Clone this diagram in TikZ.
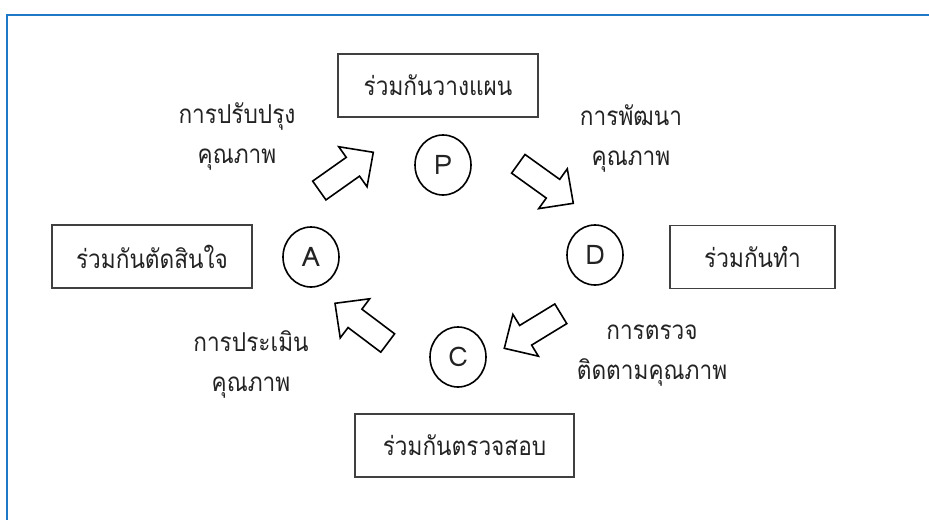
\documentclass[tikz,border=0pt]{standalone}
\usepackage{fontspec}
\newfontfamily\thaifont[Script=Thai,FakeStretch=0.87]{Loma}
\newfontfamily\latinfont{Loma}
\usetikzlibrary{calc,shapes.geometric}
\definecolor{framecol}{RGB}{30,120,200}
\definecolor{txt}{RGB}{35,35,35}
\newcommand\blockarrow[2]{%
  \coordinate (hb) at ($(#2)!25pt!(#1)$);
  \draw[blk] ($(#1)!11.5pt!90:(#2)$) -- ($(hb)!11.5pt!90:(#2)$) -- ($(hb)!24.5pt!90:(#2)$) -- (#2)
    -- ($(hb)!24.5pt!-90:(#2)$) -- ($(hb)!11.5pt!-90:(#2)$) -- ($(#1)!11.5pt!-90:(#2)$) -- cycle;}
\begin{document}
\begin{tikzpicture}[x=1pt,y=-1pt,
  box/.style={draw=black!75, line width=1.2pt, minimum width=#1, minimum height=63, inner sep=0pt,
    font=\thaifont\fontsize{26}{30}\selectfont, text=txt},
  stage/.style={draw=black, line width=1.6pt, ellipse, minimum width=56, minimum height=60, inner sep=0pt,
    font=\latinfont\fontsize{27}{30}\selectfont, text=txt},
  lbl/.style={align=center, font=\thaifont\fontsize{26}{40}\selectfont, text=txt, inner sep=0pt},
  blk/.style={draw=black, line width=1.6pt, fill=white, line join=miter},
  framel/.style={draw=framecol, line width=2pt}]
\useasboundingbox (0,0) rectangle (929,520);
\fill[white] (0,0) rectangle (929,520);
% frame
\coordinate (f1) at (929,15);
\coordinate (f2) at (7,15);
\coordinate (f3) at (7,520);
\draw[framel] (f1) -- (f2) -- (f3);
% boxes
\node[box=200] (plan) at (438,85.5) {ร่วมกันวางแผน};
\node[box=200] (decide) at (152,256.5) {ร่วมกันตัดสินใจ};
\node[box=165] (do) at (752.5,257) {ร่วมกันทำ};
\node[box=219] (check) at (464.5,445.5) {ร่วมกันตรวจสอบ};
% stages
\node[stage] (P) at (443,165) {P};
\node[stage] (A) at (311,257) {A};
\node[stage] (D) at (595,255) {D};
\node[stage] (C) at (458,357) {C};
% labels
\node[lbl] (l1) at (237,136) {การปรับปรุง\\คุณภาพ};
\node[lbl] (l2) at (631,138) {การพัฒนา\\คุณภาพ};
\node[lbl] (l3) at (251,364) {การประเมิน\\คุณภาพ};
\node[lbl] (l4) at (652,356) {การตรวจ\\ติดตามคุณภาพ};
% block arrows
\coordinate (T1) at (319.3,190.5); \coordinate (H1) at (373.3,152.3);
\coordinate (T2) at (518.3,163.8); \coordinate (H2) at (573.3,203.3);
\coordinate (T3) at (560.8,313.8); \coordinate (H3) at (504.3,348.3);
\coordinate (T4) at (387.7,343);   \coordinate (H4) at (335,303.3);
\blockarrow{T1}{H1}
\blockarrow{T2}{H2}
\blockarrow{T3}{H3}
\blockarrow{T4}{H4}
\end{tikzpicture}
\end{document}
